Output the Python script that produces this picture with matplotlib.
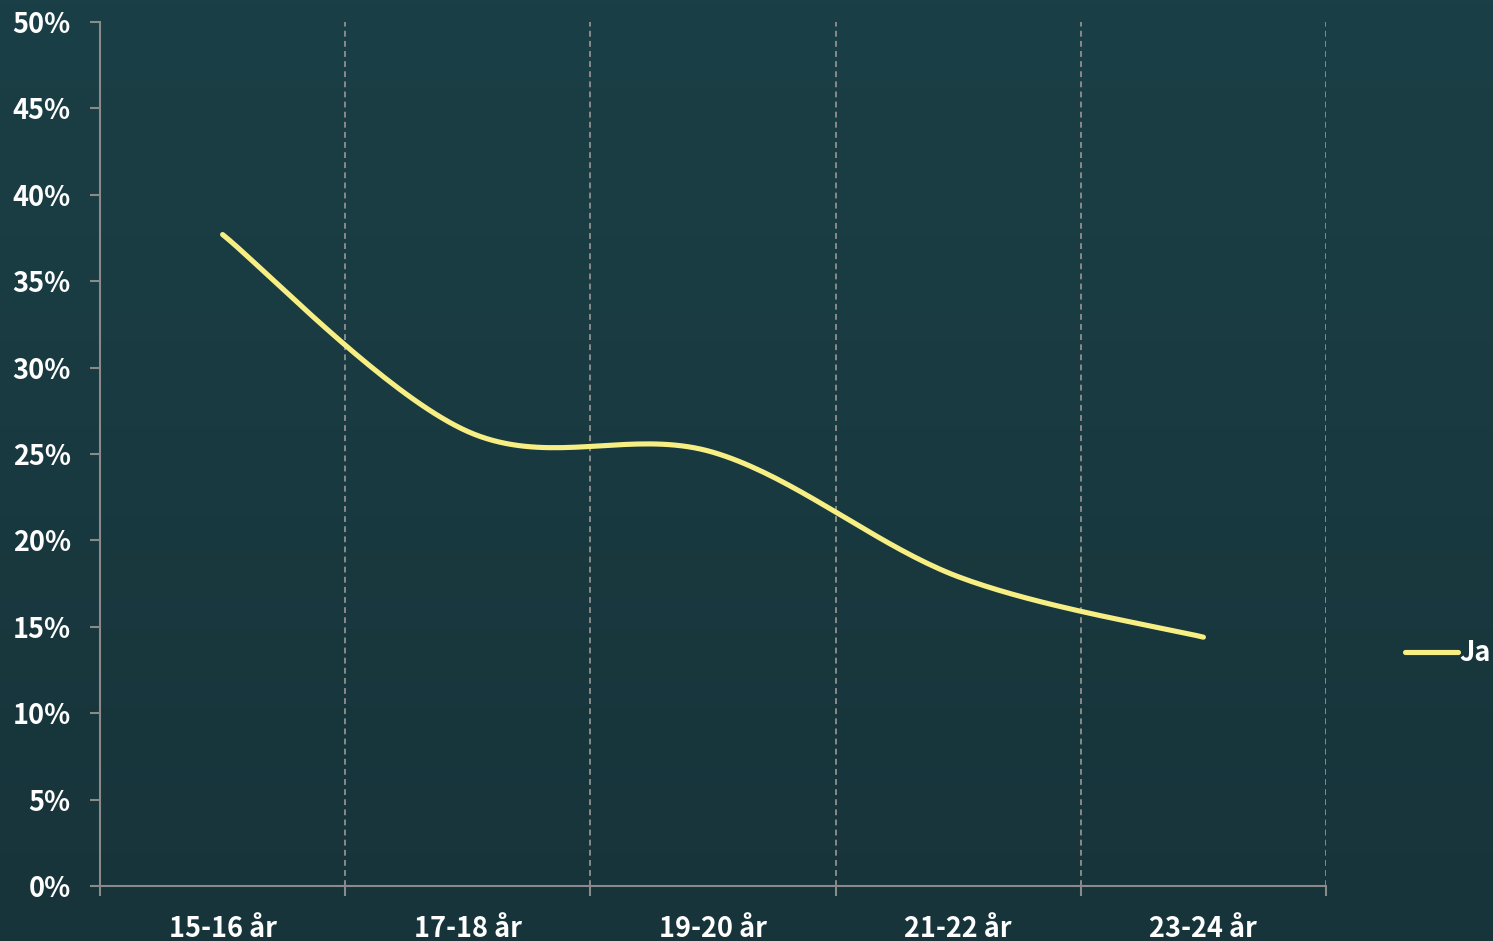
import matplotlib
matplotlib.use('Agg')
import matplotlib.pyplot as plt
import numpy as np
from matplotlib.lines import Line2D

categories = ['15-16 år', '17-18 år', '19-20 år', '21-22 år', '23-24 år']
ja_values = [37.7, 26.3, 25.1, 17.9, 14.4]
y_ticks = [0, 5, 10, 15, 20, 25, 30, 35, 40, 45, 50]

plt.rcParams['font.family'] = ['Noto Sans CJK SC', 'DejaVu Sans']
plt.rcParams['font.weight'] = 'bold'

grid_color = '#8a8a8a'
line_color = '#f7ef84'
fs = 19.5


def smooth(xs, ys, n=40):
    # Excel-like smoothed line: cubic bezier with Catmull-Rom control points
    xs = np.asarray(xs, float)
    ys = np.asarray(ys, float)
    px, py = [], []
    for i in range(len(xs) - 1):
        x0, y0 = (xs[i - 1], ys[i - 1]) if i > 0 else (xs[i], ys[i])
        x3, y3 = (xs[i + 2], ys[i + 2]) if i + 2 < len(xs) else (xs[i + 1], ys[i + 1])
        x1, y1 = xs[i], ys[i]
        x2, y2 = xs[i + 1], ys[i + 1]
        c1x, c1y = x1 + (x2 - x0) / 6, y1 + (y2 - y0) / 6
        c2x, c2y = x2 - (x3 - x1) / 6, y2 - (y3 - y1) / 6
        t = np.linspace(0, 1, n)
        bx = (1 - t) ** 3 * x1 + 3 * (1 - t) ** 2 * t * c1x + 3 * (1 - t) * t ** 2 * c2x + t ** 3 * x2
        by = (1 - t) ** 3 * y1 + 3 * (1 - t) ** 2 * t * c1y + 3 * (1 - t) * t ** 2 * c2y + t ** 3 * y2
        px.extend(bx)
        py.extend(by)
    return np.array(px), np.array(py)


fig = plt.figure(figsize=(14.93, 9.41), dpi=100)

# background gradient
bg = fig.add_axes([0, 0, 1, 1], zorder=-10)
grad = np.linspace(0, 1, 256).reshape(-1, 1)
top = np.array([27, 63, 70]) / 255
bottom = np.array([23, 52, 58]) / 255
img = top + (bottom - top) * grad[:, :, None]
bg.imshow(img, aspect='auto', extent=[0, 1, 0, 1])
bg.axis('off')

ax = fig.add_axes([100 / 1493, 55 / 941, 1226 / 1493, 864 / 941])
ax.patch.set_alpha(0)

x = np.arange(len(categories))
sx, sy = smooth(x, ja_values)
ax.plot(sx, sy, color=line_color, linewidth=3.7, solid_capstyle='round', zorder=3)

ax.set_xlim(-0.5, len(categories) - 0.5)
ax.set_ylim(0, 50)

bounds = np.arange(len(categories) + 1) - 0.5
for b in bounds[1:]:
    ax.axvline(b, color=grid_color, linestyle=(0, (3, 2.2)), linewidth=1.4, zorder=1)

ax.set_xticks(bounds)
ax.set_xticklabels([])
ax.set_xticks(x, minor=True)
ax.set_xticklabels(categories, minor=True)
ax.tick_params(axis='x', which='minor', length=0, pad=21, labelsize=fs, labelcolor='white')
ax.tick_params(axis='x', which='major', direction='out', length=7, color=grid_color, width=1.5)

ax.set_yticks(y_ticks)
ax.set_yticklabels([f'{v}%' for v in y_ticks])
ax.tick_params(axis='y', length=7, color=grid_color, width=1.5, labelsize=fs, labelcolor='white', pad=14)

for side in ['top', 'right']:
    ax.spines[side].set_visible(False)
for side in ['left', 'bottom']:
    ax.spines[side].set_color(grid_color)
    ax.spines[side].set_linewidth(1.5)

handle = Line2D([0], [0], color=line_color, linewidth=3.7, solid_capstyle='round')
fig.legend([handle], ['Ja'], loc='center left', bbox_to_anchor=(1405 / 1493, 1 - 653 / 941),
           frameon=False, fontsize=fs, labelcolor='white', handlelength=1.95,
           handletextpad=0.05, borderaxespad=0, borderpad=0)

fig.savefig('out.png', dpi=100)
